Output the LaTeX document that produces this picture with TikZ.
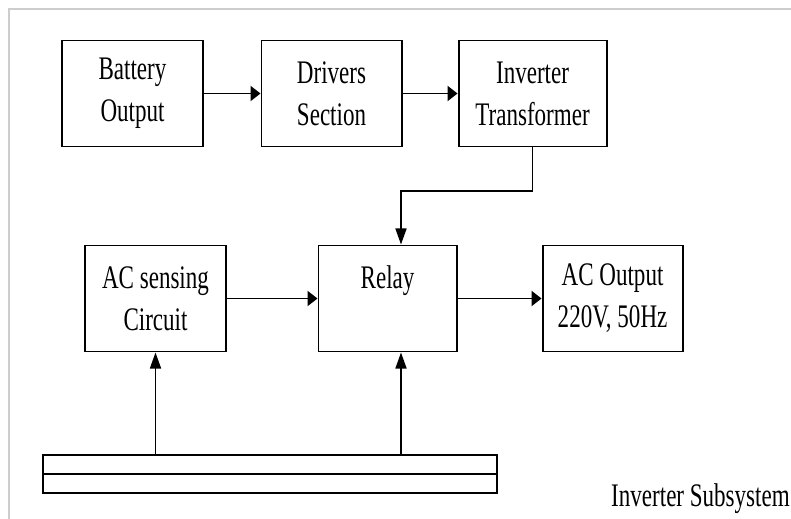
\documentclass[tikz,border=0pt]{standalone}
\usepackage{fontspec}
\setmainfont{Liberation Serif}[FakeStretch=0.70]
\usetikzlibrary{arrows.meta, positioning, calc}
\definecolor{FrameGrey}{RGB}{205, 205, 205}

\begin{document}
\begin{tikzpicture}[
        x = 0.025cm, y = -0.025cm,
        block/.style = {
            draw,
            line width = 1.4pt,
            minimum width = 3.5cm,
            minimum height = 2.65cm,
            align = center,
            inner sep = 0pt,
            font = \fontsize{23.4pt}{29.8pt}\selectfont
        },
        harr/.style = {
            -{Triangle[length = 0.25cm, width = 0.375cm]},
            line width = 1.4pt
        },
        varr/.style = {
            -{Triangle[length = 0.4cm, width = 0.275cm]},
            line width = 1.1pt
        }
    ]
        \useasboundingbox (0,0) rectangle (791,519);
        \draw[FrameGrey, line width = 1.5pt] (9,519) -- (9,9) -- (791,9);

        % top row
        \node[block] (batt) at (132.5,93.5) {Battery\\Output};
        \node[block, right = 1.425cm of batt] (drv) {Drivers\\Section};
        \node[block, minimum width = 3.7cm, right = 1.375cm of drv] (inv) {Inverter\\Transformer};

        % middle row
        \node[block] (sens) at (155.5,298.5) {AC sensing\\Circuit};
        \node[block, minimum width = 3.45cm, right = 2.275cm of sens] (relay) {Relay\\~};
        \node[block, right = 2.1cm of relay] (acout) {AC Output\\220V, 50Hz};

        % bus bar
        \node[draw, line width = 1.4pt, minimum width = 11.35cm, minimum height = 0.95cm,
            inner sep = 0pt, anchor = north west] (bus) at (42,454) {};
        \draw[line width = 1.4pt] (bus.west) -- (bus.east);

        \coordinate (tap) at (401,191);

        \draw[harr] (batt) -- (drv);
        \draw[harr] (drv) -- (inv);
        \draw[harr] (sens) -- (relay);
        \draw[harr] (relay) -- (acout);
        \draw[varr] (inv.south) |- (tap) -- (tap |- relay.north);
        \draw[varr] (sens |- bus.north) -- (sens.south);
        \draw[varr] (tap |- bus.north) -- (tap |- relay.south);

        \node[anchor = base east, inner sep = 0pt, font = \fontsize{23.4pt}{29.8pt}\selectfont]
            (title) at (790,506) {Inverter Subsystem};
    \end{tikzpicture}
\end{document}
